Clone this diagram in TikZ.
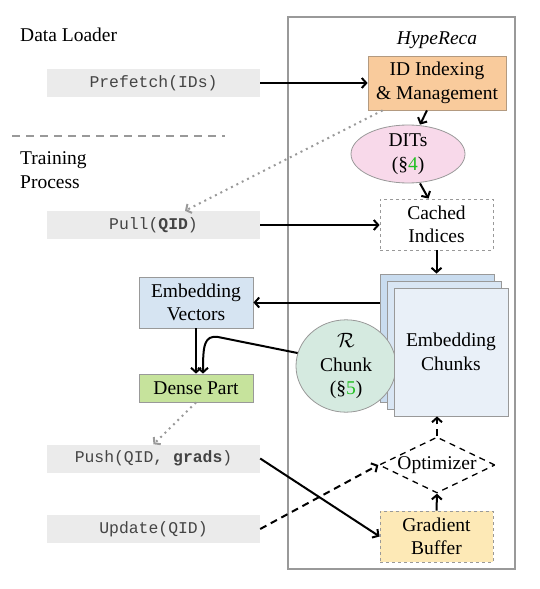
\documentclass[tikz,border=0pt]{standalone}
\usepackage{fontspec}
\setmainfont{Liberation Serif}
\setmonofont{Liberation Mono}
\usetikzlibrary{arrows.meta,shapes.geometric,calc}
\definecolor{codebg}{HTML}{EBEBEB}
\definecolor{codetx}{HTML}{444444}
\definecolor{idfill}{HTML}{F9CB9C}
\definecolor{idedge}{HTML}{B39A80}
\definecolor{ditfill}{HTML}{F8D9EA}
\definecolor{edgegray}{HTML}{999999}
\definecolor{evfill}{HTML}{D6E4F2}
\definecolor{chA}{HTML}{C9DCEF}
\definecolor{chB}{HTML}{D9E6F4}
\definecolor{chC}{HTML}{E9F0F8}
\definecolor{rfill}{HTML}{D5EAE0}
\definecolor{densefill}{HTML}{C6E39C}
\definecolor{gbfill}{HTML}{FDE9B6}
\definecolor{secgreen}{HTML}{22C022}
\definecolor{dotgray}{HTML}{9A9A9A}
\begin{document}
\begin{tikzpicture}[x=1pt,y=-1pt,
  every node/.style={font=\fontsize{19.5}{23.5}\selectfont, inner sep=0pt, align=center},
  codebox/.style={fill=codebg, minimum width=213pt, minimum height=28pt,
     font=\fontsize{16.4}{19}\selectfont\ttfamily, text=codetx},
  boxstyle/.style={draw=edgegray, line width=0.8pt, minimum width=114pt},
  arr/.style={-{Straight Barb[length=4.5pt,width=10pt]}, line width=2pt},
  garr/.style={-{Straight Barb[length=4pt,width=10pt]}, line width=2pt, dotgray, dash pattern=on 2pt off 4pt},
  dasharr/.style={arr, dash pattern=on 7pt off 5pt}
]
\useasboundingbox (0,0) rectangle (540,589);

% left labels
\node[anchor=west] (dl) at (20,35) {Data Loader};
\node[anchor=west, align=left] (tp) at (20,170) {Training\\Process};
\coordinate (sepA) at (12,136);
\coordinate (sepB) at (225,136);
\draw[edgegray, line width=1.2pt, dash pattern=on 8pt off 6pt] (sepA) -- (sepB);

% code boxes
\node[codebox] (prefetch) at (153.5,83) {Prefetch(IDs)};
\node[codebox] (pull) at (153.5,225) {Pull(\textbf{QID})};
\node[codebox] (push) at (153.5,458.5) {Push(QID, \textbf{grads})};
\node[codebox] (update) at (153.5,529) {Update(QID)};

% outer HypeReca frame
\node[draw=edgegray, line width=1.5pt, minimum width=227pt, minimum height=552pt] (frame) at (401.5,293) {};
\node (hyper) at (437,40) {\itshape HypeReca};

% right components
\node[draw=idedge, fill=idfill, line width=0.8pt, minimum width=138pt, minimum height=54pt] (idbox) at (437,83) {ID Indexing\\\& Management};
\node[ellipse, draw=edgegray, fill=ditfill, line width=0.8pt, minimum width=114pt, minimum height=58pt] (dits) at (408,154) {DITs\\(\S\textcolor{secgreen}{4})};
\node[draw=edgegray, dashed, line width=0.8pt, minimum width=113pt, minimum height=51pt] (cached) at (436.5,224.5) {Cached\\Indices};

% embedding chunks stack
\node[boxstyle, fill=chA, minimum height=128pt] (cb) at (437,338) {};
\node[boxstyle, fill=chB, minimum height=128pt] (cm) at (444,345) {};
\node[ellipse, draw=edgegray, fill=rfill, line width=0.8pt, minimum width=100pt, minimum height=92pt] (rchunk) at (346,366) {$\mathcal{R}$\\Chunk\\(\S\textcolor{secgreen}{5})};
\node[boxstyle, fill=chC, minimum height=128pt] (cf) at (451,352) {Embedding\\Chunks};

% left side boxes
\node[boxstyle, fill=evfill, minimum height=51pt] (evec) at (196,302.5) {Embedding\\Vectors};
\node[boxstyle, fill=densefill, minimum height=28pt] (dense) at (196,388) {Dense Part};

% optimizer and gradient buffer
\node[diamond, draw=black, line width=1.3pt, dash pattern=on 6pt off 5pt, minimum width=116pt, minimum height=56pt, shape aspect=2] (opt) at (437,465) {};
\node (optlbl) at (opt.center) {Optimizer};
\node[draw=edgegray, dashed, fill=gbfill, line width=0.8pt, minimum width=113pt, minimum height=51pt] (gbuf) at (436.5,536.5) {Gradient\\Buffer};

% connectors
\draw[arr] (prefetch.east) -- (prefetch.east -| idbox.west);
\draw[arr] (pull.east) -- (pull.east -| cached.west);
\draw[arr] ([xshift=-10pt]idbox.south) -- ([xshift=12pt]dits.north);
\draw[arr] ([xshift=12pt]dits.south) -- ([xshift=-8pt]cached.north);
\draw[arr] (cached.south) -- (cached.south |- cb.north);
\draw[arr] (evec.east -| cb.west) -- (evec.east);
\draw[arr] (evec.south) -- (dense.north);
\draw[arr] (rchunk.165) -- (218,337) .. controls (204,335) and (203,346) .. ([xshift=7pt]dense.north);
\draw[garr] (dense.south) -- (push.north);
\draw[garr] ([xshift=15pt]idbox.south west) -- ([xshift=31.5pt]pull.north);
\draw[arr] (push.east) -- (gbuf.west);
\draw[dasharr] (update.east) -- (opt.west);
\draw[arr] (gbuf.north) -- (opt.south);
\draw[dasharr] (opt.north) -- (opt.north |- cf.south);
\end{tikzpicture}
\end{document}
